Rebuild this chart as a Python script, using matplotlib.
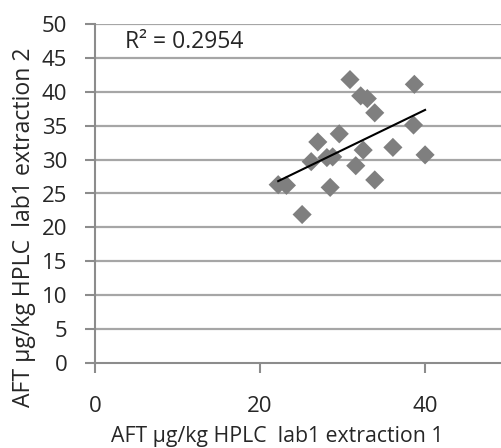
import numpy as np
import matplotlib
matplotlib.use("Agg")
import matplotlib.pyplot as plt

# data
ext1 = [30.9, 38.7, 32.2, 33.0, 33.9, 38.6, 29.6, 27.0, 32.5, 36.1,
        40.0, 28.1, 28.8, 26.2, 31.6, 33.9, 28.5, 22.2, 23.2, 25.1]
ext2 = [41.8, 41.1, 39.4, 39.0, 36.9, 35.1, 33.8, 32.6, 31.4, 31.8,
        30.7, 30.3, 30.4, 29.7, 29.1, 27.0, 25.9, 26.3, 26.2, 21.9]
x_ticks = [0, 20, 40]
y_ticks = [0, 5, 10, 15, 20, 25, 30, 35, 40, 45, 50]
r2_label = "R² = 0.2954"

plt.rcParams["font.family"] = ["Open Sans", "DejaVu Sans"]

fig = plt.figure(figsize=(5.01, 4.48), dpi=100)
ax = fig.add_axes([95 / 501, 85 / 448, 406 / 501, 339 / 448])

grid_col = "#a6a6a6"
axis_col = "#8c8c8c"
text_col = "#262626"

for y in y_ticks[1:]:
    ax.axhline(y, color=grid_col, lw=1.6, zorder=0)

ax.scatter(ext1, ext2, marker="D", s=95, color="#7f7f7f", edgecolors="none", zorder=3)

# linear trend line
slope, icpt = np.polyfit(ext1, ext2, 1)
xl = np.array([min(ext1), max(ext1)])
ax.plot(xl, slope * xl + icpt, color="black", lw=1.5, zorder=4)

ax.text(3.6, 46.5, r2_label, fontsize=16.5, color=text_col, va="baseline", ha="left")

ax.set_xlim(0, 49.2)
ax.set_ylim(0, 50)
ax.set_xticks(x_ticks)
ax.set_yticks(y_ticks)
ax.tick_params(axis="both", colors=axis_col, length=7, width=1.5,
               labelcolor=text_col, labelsize=16)
ax.tick_params(axis="x", pad=17)
ax.tick_params(axis="y", pad=13)

for side in ["top", "right"]:
    ax.spines[side].set_visible(False)
for side in ["left", "bottom"]:
    ax.spines[side].set_color(axis_col)
    ax.spines[side].set_linewidth(1.5)

ax.set_xlabel("AFT µg/kg HPLC  lab1 extraction 1", fontsize=15.3, color=text_col)
ax.set_ylabel("AFT µg/kg HPLC  lab1 extraction 2", fontsize=16.6, color=text_col)
ax.xaxis.set_label_coords(0.45, -0.186)
ax.yaxis.set_label_coords(-0.145, 0.40)

fig.savefig("out.png", dpi=100)
